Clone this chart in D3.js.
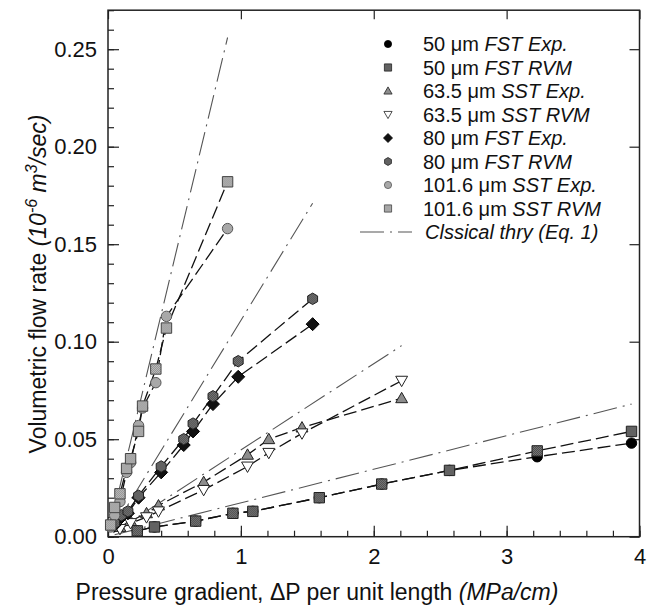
<!DOCTYPE html>
<html>
<head>
<meta charset="utf-8">
<script src="https://cdn.jsdelivr.net/npm/d3@7"></script>
<style>
    body { margin: 0; background: #fff; }
    #chart { width: 660px; height: 606px; }
    text { font-family: "Liberation Sans", Arial, sans-serif; fill: #111; }
</style>
</head>
<body>
<div id="chart"></div>
<script>
// axis ticks
const xTicks = [0, 1, 2, 3, 4];
const yTicks = [0, 0.05, 0.10, 0.15, 0.20, 0.25];

// 50 um FST
const grad50 = [0.22, 0.35, 0.66, 0.94, 1.09, 1.59, 2.06, 2.57, 3.23, 3.94];
const flow50Exp = [0.003, 0.005, 0.008, 0.012, 0.013, 0.020, 0.027, 0.034, 0.041, 0.048];
const flow50Rvm = [0.003, 0.005, 0.008, 0.012, 0.013, 0.020, 0.027, 0.034, 0.044, 0.054];

// 63.5 um SST
const grad63 = [0.09, 0.17, 0.29, 0.38, 0.72, 1.05, 1.21, 1.46, 2.21];
const flow63Exp = [0.005, 0.008, 0.012, 0.016, 0.028, 0.042, 0.050, 0.056, 0.071];
const flow63Rvm = [0.004, 0.007, 0.010, 0.013, 0.024, 0.036, 0.043, 0.053, 0.080];

// 80 um FST
const grad80 = [0.05, 0.10, 0.15, 0.23, 0.40, 0.57, 0.64, 0.79, 0.98, 1.54];
const flow80Exp = [0.006, 0.010, 0.012, 0.020, 0.033, 0.047, 0.054, 0.068, 0.082, 0.109];
const flow80Rvm = [0.007, 0.011, 0.013, 0.021, 0.036, 0.050, 0.058, 0.072, 0.090, 0.122];

// 101.6 um SST
const grad101 = [0.02, 0.05, 0.09, 0.14, 0.17, 0.23, 0.26, 0.36, 0.44, 0.90];
const flow101Exp = [0.005, 0.011, 0.018, 0.033, 0.038, 0.057, 0.066, 0.079, 0.113, 0.158];
const flow101Rvm = [0.006, 0.015, 0.022, 0.035, 0.040, 0.054, 0.067, 0.086, 0.107, 0.182];

// classical theory (Eq. 1), start and end of each line
const classicalX = [[0.05, 3.94], [0.04, 2.21], [0.03, 1.54], [0.02, 0.90]];
const classicalY = [[0.001, 0.068], [0.002, 0.098], [0.003, 0.171], [0.006, 0.256]];

const legendSizes = ["50", "50", "63.5", "63.5", "80", "80", "101.6", "101.6"];
const legendKinds = ["FST Exp.", "FST RVM", "SST Exp.", "SST RVM", "FST Exp.", "FST RVM", "SST Exp.", "SST RVM"];
const legendClassical = "Clssical thry (Eq. 1)";

class FlowChart {
    constructor(parentElement) {
        this.parentElement = parentElement;
        this.series = [
            {x: grad50, y: flow50Exp, marker: "circle", fill: "#000", stroke: "#000"},
            {x: grad50, y: flow50Rvm, marker: "square", fill: "url(#hatchDark)", stroke: "#222"},
            {x: grad63, y: flow63Exp, marker: "triUp", fill: "#8c8c8c", stroke: "#222"},
            {x: grad63, y: flow63Rvm, marker: "triDown", fill: "#fff", stroke: "#222"},
            {x: grad80, y: flow80Exp, marker: "diamond", fill: "#111", stroke: "#000"},
            {x: grad80, y: flow80Rvm, marker: "hexagon", fill: "url(#hatchDark)", stroke: "#222"},
            {x: grad101, y: flow101Exp, marker: "circle", fill: "#a8a8a8", stroke: "#555"},
            {x: grad101, y: flow101Rvm, marker: "square", fill: "url(#hatchLight)", stroke: "#444"}
        ];
        this.initVis();
    }

    markerPath(kind, r) {
        if (kind === "circle") return d3.symbol(d3.symbolCircle, Math.PI * r * r)();
        if (kind === "square") return d3.symbol(d3.symbolSquare, 4 * r * r)();
        if (kind === "diamond") {
            let h = r * 1.25;
            return "M0," + (-h) + "L" + h + ",0L0," + h + "L" + (-h) + ",0Z";
        }
        if (kind === "triUp" || kind === "triDown") {
            let s = kind === "triUp" ? 1 : -1;
            let h = r * 1.9;
            return "M0," + (-s * h * 0.6) + "L" + (h * 0.6) + "," + (s * h * 0.45) +
                "L" + (-h * 0.6) + "," + (s * h * 0.45) + "Z";
        }
        // hexagon
        let pts = d3.range(6).map(i => {
            let a = Math.PI / 6 + i * Math.PI / 3;
            return [r * 1.1 * Math.cos(a), r * 1.1 * Math.sin(a)];
        });
        return "M" + pts.join("L") + "Z";
    }

    initVis() {
        let vis = this;

        vis.svg = d3.select("#" + vis.parentElement)
            .append("svg")
            .attr("width", 660)
            .attr("height", 606);

        let defs = vis.svg.append("defs");
        [["hatchDark", "#8a8a8a", "#3a3a3a"], ["hatchLight", "#c4c4c4", "#8a8a8a"]].forEach(p => {
            let pat = defs.append("pattern")
                .attr("id", p[0])
                .attr("width", 2).attr("height", 2)
                .attr("patternUnits", "userSpaceOnUse");
            pat.append("rect").attr("width", 2).attr("height", 2).attr("fill", p[1]);
            pat.append("rect").attr("width", 1).attr("height", 1).attr("fill", p[2]);
            pat.append("rect").attr("x", 1).attr("y", 1).attr("width", 1).attr("height", 1).attr("fill", p[2]);
        });

        vis.x = d3.scaleLinear().domain([0, 4]).range([108, 639.5]);
        vis.y = d3.scaleLinear().domain([0, 0.27]).range([536.7, 10.2]);

        // minor ticks
        vis.svg.append("g")
            .attr("class", "x-minor")
            .attr("transform", "translate(0," + vis.y(0) + ")")
            .call(d3.axisBottom(vis.x).tickValues(d3.range(0, 4.01, 0.2)).tickSize(-6).tickFormat(""));
        vis.svg.append("g")
            .attr("class", "y-minor")
            .attr("transform", "translate(" + vis.x(0) + ",0)")
            .call(d3.axisLeft(vis.y).tickValues(d3.range(0, 0.2701, 0.01)).tickSize(-6).tickFormat(""));

        // major ticks with labels
        vis.svg.append("g")
            .attr("class", "x-axis axis")
            .attr("transform", "translate(0," + vis.y(0) + ")")
            .call(d3.axisBottom(vis.x).tickValues(xTicks).tickSize(-11).tickPadding(12).tickFormat(d3.format("d")));
        vis.svg.append("g")
            .attr("class", "y-axis axis")
            .attr("transform", "translate(" + vis.x(0) + ",0)")
            .call(d3.axisLeft(vis.y).tickValues(yTicks).tickSize(-11).tickPadding(11).tickFormat(d3.format(".2f")));

        // mirrored ticks on top and right
        vis.svg.append("g")
            .attr("transform", "translate(0," + vis.y(0.27) + ")")
            .call(d3.axisTop(vis.x).tickValues(xTicks).tickSize(-9).tickFormat(""));
        vis.svg.append("g")
            .attr("transform", "translate(" + vis.x(4) + ",0)")
            .call(d3.axisRight(vis.y).tickValues(yTicks).tickSize(-10).tickFormat(""));

        vis.svg.selectAll(".domain").remove();
        vis.svg.selectAll(".tick line").attr("stroke", "#222").attr("stroke-width", 1.2);
        vis.svg.selectAll(".axis text").style("font-size", "22px").attr("fill", "#111");

        vis.svg.append("rect")
            .attr("x", vis.x(0)).attr("y", vis.y(0.27))
            .attr("width", vis.x(4) - vis.x(0)).attr("height", vis.y(0) - vis.y(0.27))
            .attr("fill", "none").attr("stroke", "#222").attr("stroke-width", 1.5);

        // axis titles
        let xt = vis.svg.append("text")
            .attr("x", 317).attr("y", 600)
            .attr("text-anchor", "middle")
            .style("font-size", "23px");
        xt.append("tspan").text("Pressure gradient, \u0394P per unit length ");
        xt.append("tspan").style("font-style", "italic").text("(MPa/cm)");

        let yt = vis.svg.append("text")
            .attr("transform", "translate(46,284) rotate(-90)")
            .attr("text-anchor", "middle")
            .style("font-size", "23px");
        yt.append("tspan").text("Volumetric flow rate ");
        yt.append("tspan").style("font-style", "italic").text("(10");
        yt.append("tspan").style("font-style", "italic").style("font-size", "16px").attr("dy", -9).text("-6");
        yt.append("tspan").style("font-style", "italic").attr("dy", 9).text(" m");
        yt.append("tspan").style("font-style", "italic").style("font-size", "16px").attr("dy", -9).text("3");
        yt.append("tspan").style("font-style", "italic").attr("dy", 9).text("/sec)");

        vis.updateVis();
    }

    updateVis() {
        let vis = this;

        // classical theory lines
        let classical = classicalX.map((xs, i) => xs.map((x, j) => ({x: x, y: classicalY[i][j]})));
        vis.svg.selectAll(".classical")
            .data(classical)
            .enter().append("path")
            .attr("class", "classical")
            .attr("d", d3.line().x(d => vis.x(d.x)).y(d => vis.y(d.y)))
            .attr("fill", "none")
            .attr("stroke", "#555")
            .attr("stroke-width", 1.1)
            .attr("stroke-dasharray", "24,6,2,6");

        // connecting dashed lines
        let line = d3.line().x(d => vis.x(d[0])).y(d => vis.y(d[1]));
        vis.svg.selectAll(".fit")
            .data(vis.series)
            .enter().append("path")
            .attr("class", "fit")
            .attr("d", s => line(s.x.map((x, i) => [x, s.y[i]])))
            .attr("fill", "none")
            .attr("stroke", "#111")
            .attr("stroke-width", 1.3)
            .attr("stroke-dasharray", "13,5");

        // markers
        vis.series.forEach((s, k) => {
            vis.svg.selectAll(".dot" + k)
                .data(s.x.map((x, i) => [x, s.y[i]]))
                .enter().append("path")
                .attr("class", "dot" + k)
                .attr("transform", d => "translate(" + vis.x(d[0]) + "," + vis.y(d[1]) + ")")
                .attr("d", vis.markerPath(s.marker, 5.2))
                .attr("fill", s.fill)
                .attr("stroke", s.stroke)
                .attr("stroke-width", 1);
        });

        // legend
        let legend = vis.svg.append("g").attr("class", "legend");
        vis.series.forEach((s, i) => {
            let yPos = 44 + i * 23.5;
            legend.append("path")
                .attr("transform", "translate(388," + yPos + ")")
                .attr("d", vis.markerPath(s.marker, 3.6))
                .attr("fill", s.fill)
                .attr("stroke", s.stroke)
                .attr("stroke-width", 0.8);
            let t = legend.append("text")
                .attr("x", 423).attr("y", yPos)
                .attr("dy", "0.36em")
                .style("font-size", "20px");
            t.append("tspan").text(legendSizes[i] + " \u03bcm ");
            t.append("tspan").style("font-style", "italic").text(legendKinds[i]);
        });
        let cy = 44 + 8 * 23.5;
        legend.append("line")
            .attr("x1", 360).attr("x2", 412)
            .attr("y1", cy).attr("y2", cy)
            .attr("stroke", "#555")
            .attr("stroke-width", 1.1)
            .attr("stroke-dasharray", "24,6,2,6");
        legend.append("text")
            .attr("x", 425).attr("y", cy)
            .attr("dy", "0.36em")
            .style("font-size", "20px")
            .style("font-style", "italic")
            .text(legendClassical);
    }
}

new FlowChart("chart");
</script>
</body>
</html>
